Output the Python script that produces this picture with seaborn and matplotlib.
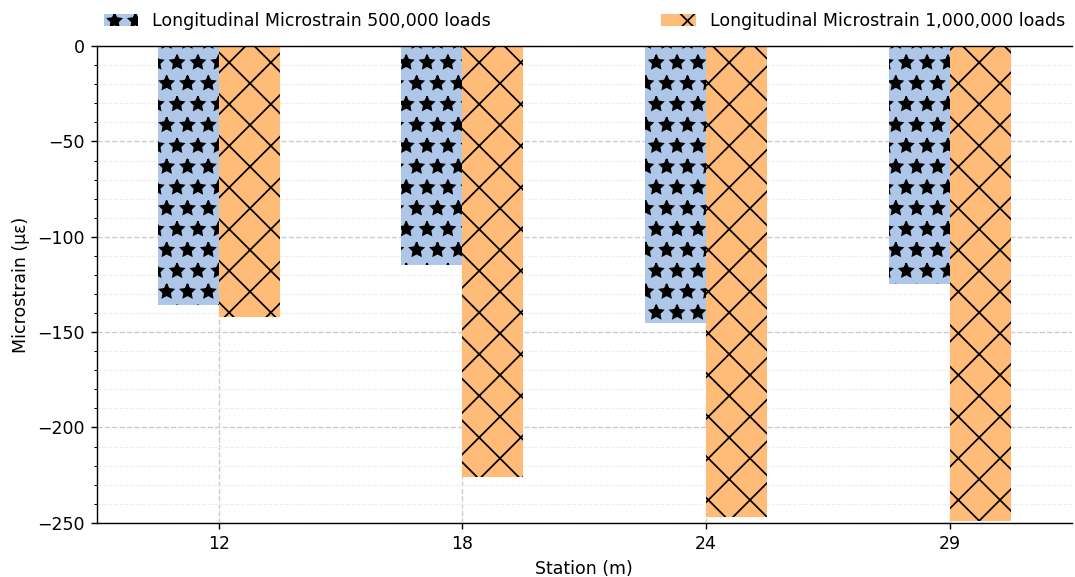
import numpy as np
import pandas as pd
import seaborn as sns
import matplotlib.pyplot as plt
from matplotlib.ticker import MultipleLocator

# Data
stations = ['12', '18', '24', '29']
strain_500k = [-136, -115, -145, -125]
strain_1m = [-142, -226, -247, -249]
series_names = ['Longitudinal Microstrain 500,000 loads',
                'Longitudinal Microstrain 1,000,000 loads']

df = pd.DataFrame({
    'Station': stations * 2,
    'Microstrain': strain_500k + strain_1m,
    'Series': [series_names[0]] * 4 + [series_names[1]] * 4,
})

plt.rcParams['font.size'] = 10
plt.rcParams['hatch.linewidth'] = 1.0

fig, ax = plt.subplots(figsize=(8.6, 4.616), dpi=125)
fig.subplots_adjust(left=0.090, right=0.997, top=0.920, bottom=0.094)

sns.barplot(data=df, x='Station', y='Microstrain', hue='Series',
            palette=['#aec7e8', '#ffbb78'], saturation=1, width=0.5, ax=ax,
            edgecolor='black', linewidth=0, legend=False)

hatches = ['*', 'x']
for cont, h in zip(ax.containers, hatches):
    for bar in cont:
        bar.set_hatch(h)
        bar.set_edgecolor('black')
        bar.set_linewidth(0)

ax.set_ylim(-250, 0)
ax.set_xlim(-0.5, 3.5)
ax.yaxis.set_major_locator(MultipleLocator(50))
ax.yaxis.set_minor_locator(MultipleLocator(10))
ax.set_axisbelow(True)
ax.grid(True, which='major', linestyle='--', color='#cccccc', linewidth=0.8)
ax.grid(True, which='minor', axis='y', linestyle='--', color='#eeeeee', linewidth=0.6)
ax.spines['right'].set_visible(False)

ax.set_xlabel('Station (m)')
ax.set_ylabel('Microstrain (με)')

ax.legend(ax.containers, series_names, loc='lower left',
          bbox_to_anchor=(0, 1.02, 1, 0.1), mode='expand', ncol=2,
          frameon=False, borderaxespad=0)

fig.savefig('out.png', dpi=125)
